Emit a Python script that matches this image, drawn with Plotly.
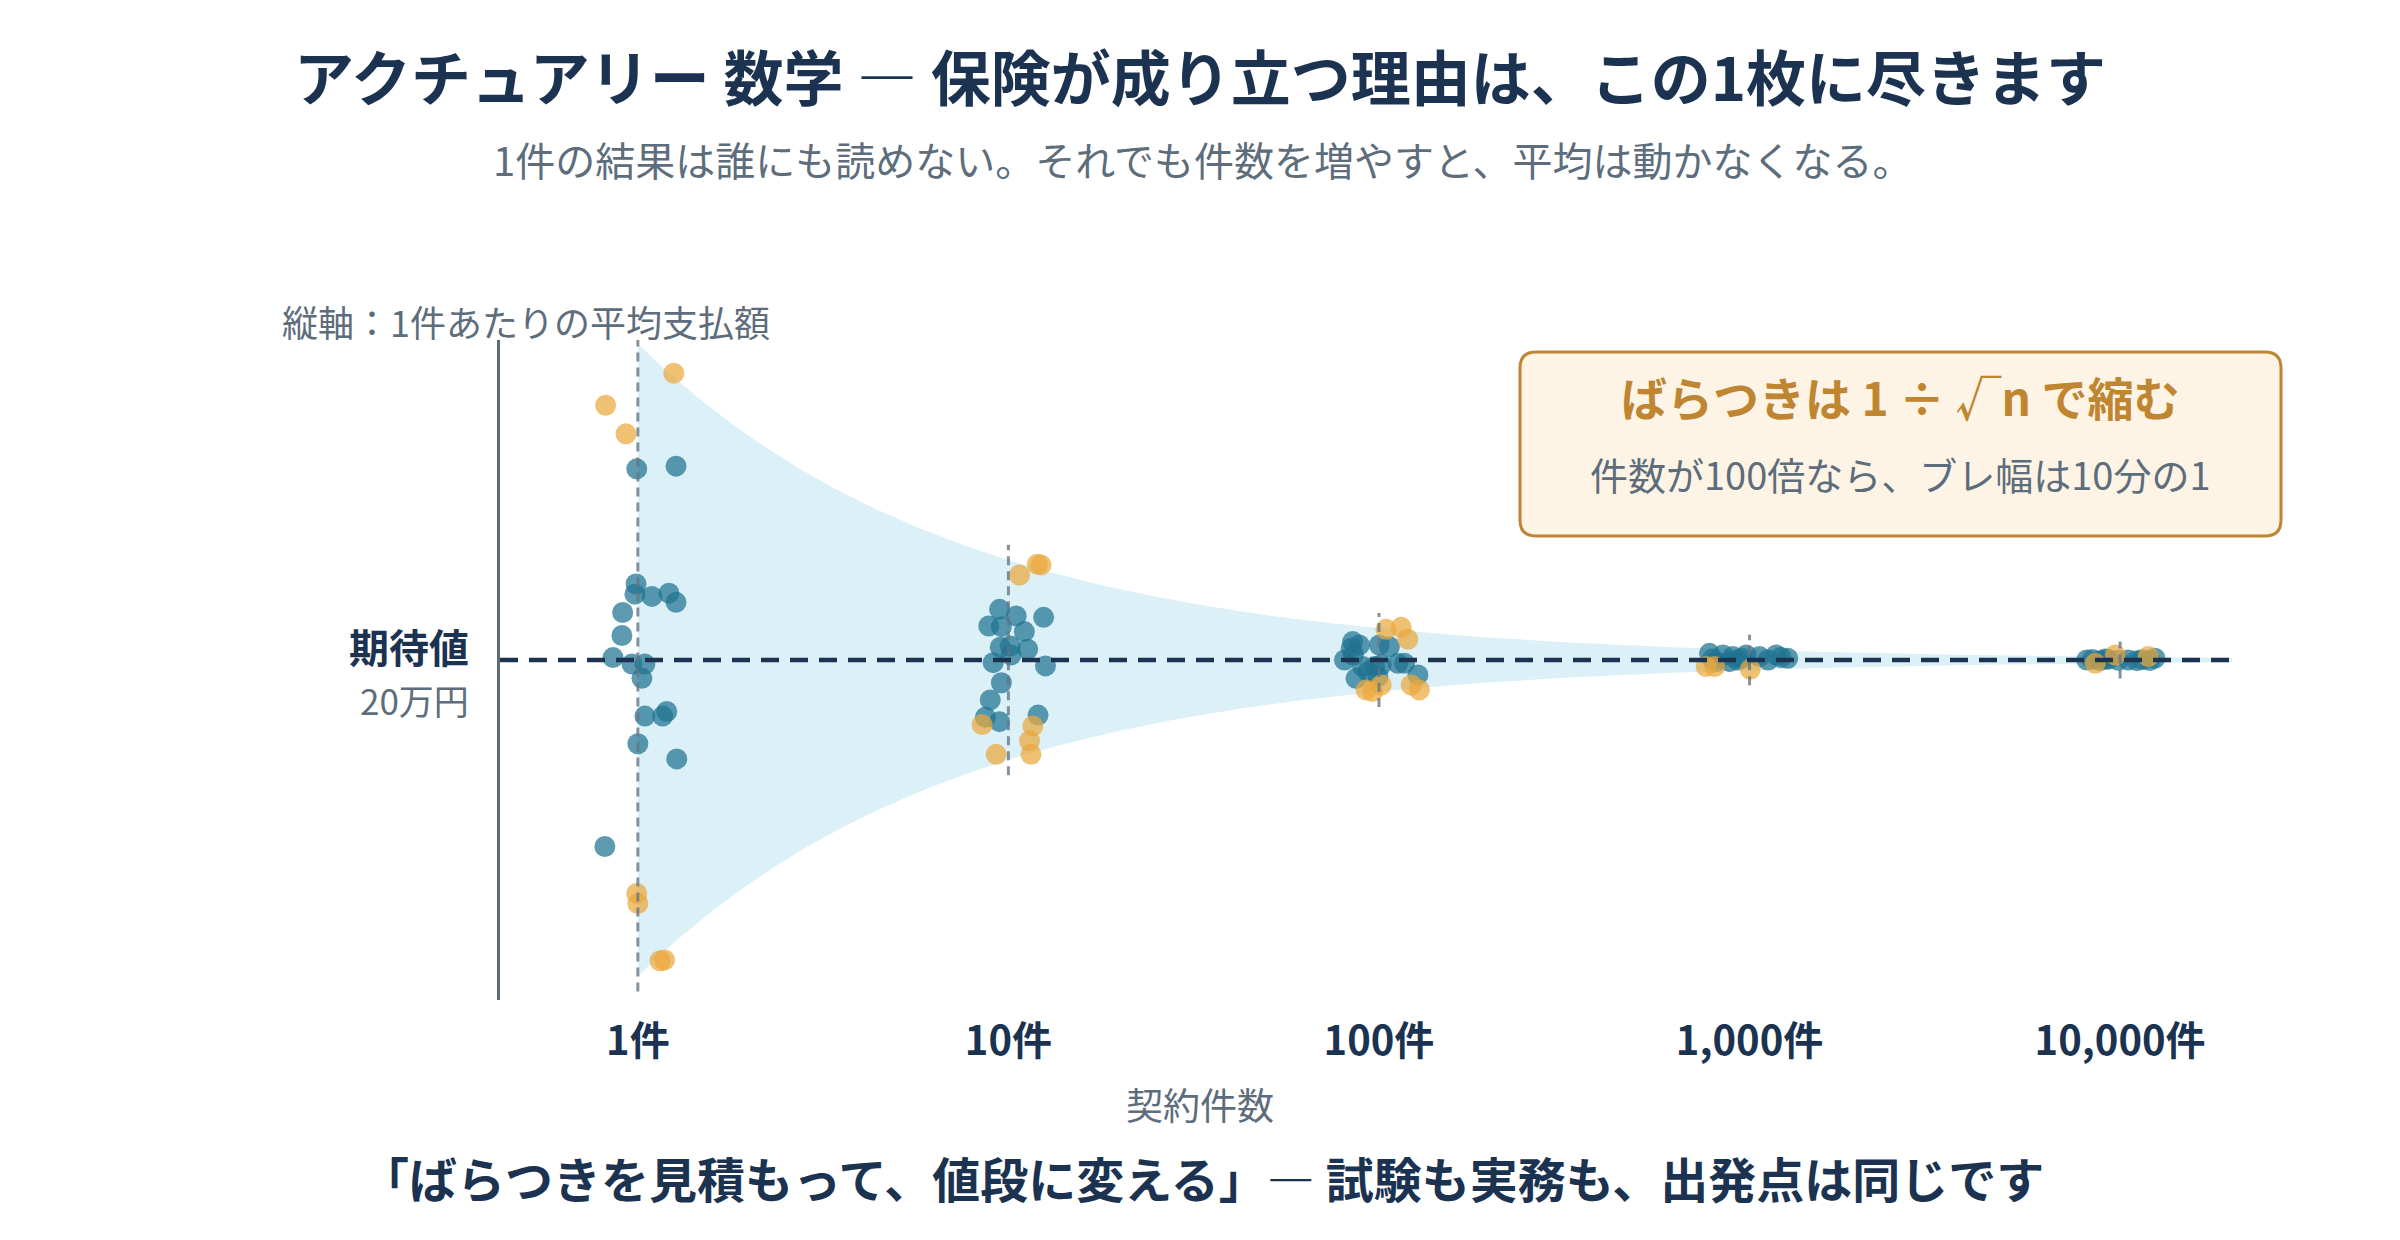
import numpy as np
import plotly.graph_objects as go

# ---------------- data ----------------
GROUP_N = [1, 10, 100, 1000, 10000]
TICK_TEXT = ["1件", "10件", "100件", "1,000件", "10,000件"]
EXPECTED = 20.0          # 期待値（万円）
SIGMA = 6.2              # 1件あたりの標準偏差（万円）

# 1件あたりの平均支払額（万円）/ 横方向のばらし(log10) / 2σ超フラグ
avg_n1 = [31.24, 31.40, 24.47, 23.87, 23.74, 23.93, 23.39, 22.79, 21.44, 20.14, 19.76,
          19.76, 18.92, 16.70, 16.70, 16.97, 15.07, 14.18, 9.03,
          36.87, 34.98, 33.30, 6.27, 5.67, 2.31, 2.36]
jit_n1 = [-0.003, 0.103, -0.005, -0.008, 0.038, 0.084, 0.103, -0.041, -0.043, -0.067, -0.016,
          0.019, 0.011, 0.019, 0.067, 0.078, 0.000, 0.105, -0.089,
          0.097, -0.087, -0.032, -0.003, 0.000, 0.060, 0.072]
out_n1 = [0] * 19 + [1] * 7

avg_n10 = [22.98, 22.59, 22.51, 22.00, 21.96, 21.67, 20.75, 20.82, 20.63, 20.29, 19.84,
           19.65, 18.66, 17.65, 16.63, 16.37, 16.76,
           25.63, 25.59, 25.00, 16.20, 16.12, 15.25, 14.45, 14.45]
jit_n10 = [-0.024, 0.021, 0.095, -0.053, -0.019, 0.043, -0.022, 0.005, 0.052, 0.007, -0.041,
           0.100, -0.019, -0.049, -0.062, -0.024, 0.080,
           0.078, 0.088, 0.030, -0.071, 0.066, 0.057, -0.033, 0.061]
out_n10 = [0] * 17 + [1] * 8

avg_n100 = [21.08, 20.88, 20.00, 20.29, 20.69, 20.88, 20.78, 19.61, 19.61, 19.71, 19.80,
            19.80, 18.92, 19.02, 19.12, 19.31,
            21.80, 21.92, 21.22, 18.14, 18.53, 18.53, 18.24, 18.24]
jit_n100 = [-0.071, -0.053, -0.093, -0.069, -0.075, 0.001, 0.028, -0.044, -0.012, 0.006, 0.051,
            0.069, -0.062, -0.003, 0.105, -0.030,
            0.019, 0.060, 0.078, -0.017, 0.006, 0.087, 0.109, -0.035]
out_n100 = [0] * 16 + [1] * 8

avg_n1000 = [20.39, 20.29, 20.20, 20.29, 20.20, 20.29, 20.10, 19.90, 19.90, 20.00,
             20.10, 20.00, 20.15, 20.05,
             19.61, 19.61, 19.45]
jit_n1000 = [-0.108, -0.072, -0.045, -0.009, 0.027, 0.072, 0.103, -0.090, -0.054, -0.032,
             -0.020, 0.050, 0.085, -0.100,
             -0.117, -0.094, 0.002]
out_n1000 = [0] * 14 + [1] * 3

avg_n10000 = [20.00, 19.96, 20.04, 20.00, 19.96, 20.10, 20.03, 19.98, 20.02, 19.97, 20.06,
              19.80, 20.29, 20.20]
jit_n10000 = [-0.090, -0.054, -0.032, 0.022, 0.045, 0.094, -0.075, -0.005, 0.060, 0.080, -0.040,
              -0.067, -0.013, 0.076]
out_n10000 = [0] * 11 + [1] * 3

groups = [
    (1, avg_n1, jit_n1, out_n1),
    (10, avg_n10, jit_n10, out_n10),
    (100, avg_n100, jit_n100, out_n100),
    (1000, avg_n1000, jit_n1000, out_n1000),
    (10000, avg_n10000, jit_n10000, out_n10000),
]

# ---------------- style ----------------
FONT = "Noto Sans CJK JP"
NAVY = "#1b3350"
GRAY = "#5d6d7c"
GOLD = "#bf8530"
BLUE = "#1f7391"
ORANGE = "#eaa83d"
BAND = "#dcf0f7"

X_RANGE = [-0.372, 4.302]
Y_RANGE = [0, 38.82]

fig = go.Figure()

# band 20 ± 3σ/√n
grid = np.logspace(0, X_RANGE[1], 300)
half = 3 * SIGMA / np.sqrt(grid)
fig.add_trace(go.Scatter(
    x=np.concatenate([grid, grid[::-1]]),
    y=np.concatenate([EXPECTED + half, (EXPECTED - half)[::-1]]),
    fill="toself", fillcolor=BAND, line=dict(width=0), mode="lines",
    hoverinfo="skip", showlegend=False))

bx, by, ox, oy = [], [], [], []
for n, vals, jit, out in groups:
    for v, j, o in zip(vals, jit, out):
        xv = n * 10 ** j
        if o:
            ox.append(xv); oy.append(v)
        else:
            bx.append(xv); by.append(v)

fig.add_trace(go.Scatter(x=bx, y=by, mode="markers",
                         marker=dict(size=21, color=BLUE, opacity=0.72, line=dict(width=0)),
                         hoverinfo="skip", showlegend=False))
fig.add_trace(go.Scatter(x=ox, y=oy, mode="markers",
                         marker=dict(size=21, color=ORANGE, opacity=0.72, line=dict(width=0)),
                         hoverinfo="skip", showlegend=False))

# vertical guides for each group
for n in GROUP_N:
    h = 3 * SIGMA / np.sqrt(n) + 0.9
    fig.add_shape(type="line", xref="x", yref="y", x0=n, x1=n,
                  y0=EXPECTED - h, y1=EXPECTED + h, layer="above",
                  line=dict(color="rgba(100,116,132,0.78)", width=3, dash="9px,6px"))

# expected value line
fig.add_shape(type="line", xref="paper", yref="y", x0=0, x1=1,
              y0=EXPECTED, y1=EXPECTED, layer="above",
              line=dict(color=NAVY, width=4.5, dash="18px,11px"))

# callout box (rounded)
L, T, W, H = 500, 340, 1732, 660
def px(x):
    return (x - L) / W
def py(y):
    return (T + H - y) / H
x0, x1, y0, y1 = px(1520), px(2281), py(536), py(352)
rx, ry = 16 / W, 16 / H
path = (f"M {x0+rx},{y1} L {x1-rx},{y1} Q {x1},{y1} {x1},{y1-ry} "
        f"L {x1},{y0+ry} Q {x1},{y0} {x1-rx},{y0} L {x0+rx},{y0} "
        f"Q {x0},{y0} {x0},{y0+ry} L {x0},{y1-ry} Q {x0},{y1} {x0+rx},{y1} Z")
fig.add_shape(type="path", xref="paper", yref="paper", path=path,
              fillcolor="#fdf4e6", line=dict(color=GOLD, width=3), layer="above")

def note(text, x, y, size, color, weight=400, xanchor="center"):
    fig.add_annotation(text=text, x=px(x), y=py(y), xref="paper", yref="paper",
                       xanchor=xanchor, yanchor="middle", showarrow=False,
                       font=dict(family=FONT, size=size, color=color, weight=weight))

note("アクチュアリー 数学 ― 保険が成り立つ理由は、この1枚に尽きます", 1200, 75, 60, NAVY, 700)
note("1件の結果は誰にも読めない。それでも件数を増やすと、平均は動かなくなる。", 1202, 159, 40, GRAY)
note("縦軸：1件あたりの平均支払額", 280, 321, 36, GRAY, xanchor="left")
note("期待値", 471, 646, 40, NAVY, 700, xanchor="right")
note("20万円", 471, 699, 35, GRAY, xanchor="right")
note("契約件数", 1200, 1104, 37, GRAY)
note("「ばらつきを見積もって、値段に変える」― 試験も実務も、出発点は同じです", 1202, 1177, 48, NAVY, 700)
note("ばらつきは 1 ÷ √n で縮む", 1900, 396, 46, GOLD, 700)
note("件数が100倍なら、ブレ幅は10分の1", 1900, 473, 38, GRAY)

fig.update_layout(
    width=2400, height=1240,
    margin=dict(l=L, r=2400 - L - W, t=T, b=1240 - T - H),
    paper_bgcolor="white", plot_bgcolor="white",
    font=dict(family=FONT),
    showlegend=False,
    xaxis=dict(type="log", range=X_RANGE, tickvals=GROUP_N, ticktext=TICK_TEXT,
               showgrid=False, zeroline=False, showline=False, ticks="",
               tickfont=dict(family=FONT, size=40, color=NAVY, weight=700),
               ticklabelstandoff=14),
    yaxis=dict(range=Y_RANGE, showgrid=False, zeroline=False, showticklabels=False,
               ticks="", showline=True, linecolor="#5f6b77", linewidth=3),
)

fig.write_html("out.html")
